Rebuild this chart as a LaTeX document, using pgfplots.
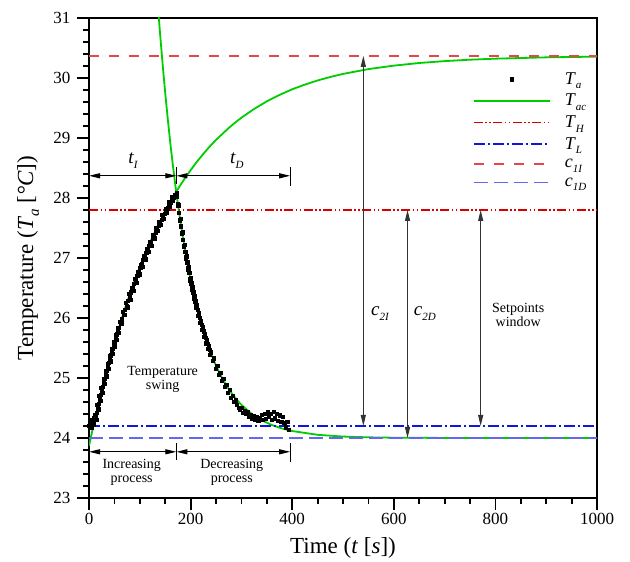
\documentclass[border=0pt]{standalone}
\usepackage{fontspec}
\setmainfont{Liberation Serif}
\usepackage{pgfplots}
\pgfplotsset{compat=1.18}
\usetikzlibrary{arrows.meta}
\definecolor{tgreen}{RGB}{0,205,0}
\definecolor{thred}{RGB}{215,0,0}
\definecolor{cred}{RGB}{230,70,70}
\definecolor{tlblue}{RGB}{20,20,225}
\definecolor{cblue}{RGB}{100,100,245}
\newcommand{\vs}[2]{\textit{#1}\raisebox{-0.55ex}{\fontsize{11}{11}\selectfont\textit{#2}}}
\newcommand{\vsl}[2]{\textit{#1}\raisebox{-0.55ex}{\fontsize{15}{15}\selectfont\textit{#2}}}
\begin{document}
\begin{tikzpicture}
\begin{axis}[
  scale only axis, width=508pt, height=480pt,
  xmin=0, xmax=1000, ymin=23, ymax=31,
  xtick={0,200,...,1000}, ytick={23,24,...,31},
  minor x tick num=3, minor y tick num=4,
  tick align=outside, xtick pos=bottom, ytick pos=left,
  major tick length=12pt, minor tick length=6pt,
  tick style={black, line width=1.8pt},
  axis line style={line width=2.7pt},
  /pgf/number format/assume math mode=true,
  /pgf/number format/1000 sep={},
  ticklabel style={font=\fontsize{17}{19}\selectfont},
  yticklabel style={xshift=-3pt},
  xlabel={Time (\textit{t} [\textit{s}])},
  ylabel={Temperature (\vsl{T}{a} [\textit{°C}])},
  every axis x label/.style={at={(axis description cs:0.5,-0.104)}, anchor=center, font=\fontsize{23}{25}\selectfont},
  every axis y label/.style={at={(axis description cs:-0.12,0.5)}, anchor=center, rotate=90, font=\fontsize{23}{25}\selectfont},
  legend style={draw=none, fill=none, at={(axis description cs:0.756,0.8906)}, anchor=north west,
    inner sep=0pt, outer sep=0pt, row sep=4.4pt,
    font=\fontsize{18}{20}\selectfont,
    /tikz/every odd column/.append style={column sep=12pt}},
  legend cell align=left,
  legend image code/.code={\draw[mark repeat=2, mark phase=2] plot coordinates {(0pt,0pt) (38pt,0pt) (76pt,0pt)};},
]
\addplot[only marks, mark=square*, mark size=1.6pt, mark options={fill=black, draw=black, line width=0.2pt}] coordinates {
(0,24.20) (2,24.26) (4,24.17) (6,24.30) (8,24.22) (10,24.33) (12,24.38) (14,24.31) (16,24.55) (18,24.48) (20,24.70) (22,24.62) (24,24.84) (26,24.76) (28,24.98) (30,24.90) (32,25.12) (34,25.03) (36,25.24) (38,25.15) (40,25.37) (42,25.28) (44,25.49) (46,25.41) (48,25.61) (50,25.53) (52,25.72) (54,25.64) (56,25.83) (58,25.75) (60,25.94) (63,25.90) (66,26.10) (69,26.05) (72,26.25) (75,26.18) (78,26.40) (81,26.31) (84,26.50) (87,26.46) (90,26.65) (93,26.59) (96,26.77) (99,26.73) (102,26.89) (105,26.86) (108,27.03) (111,26.98) (114,27.15) (117,27.10) (120,27.27) (123,27.21) (126,27.39) (129,27.33) (132,27.50) (135,27.45) (138,27.61) (141,27.56) (144,27.72) (147,27.66) (150,27.82) (153,27.76) (156,27.93) (159,27.86) (162,28.02) (165,27.95) (168,28.06) (170,28.02) (172,28.08) (174,27.91) (176,27.88) (178,27.63) (180,27.65) (182,27.41) (184,27.43) (186,27.19) (188,27.22) (190,26.99) (192,27.03) (194,26.81) (196,26.85) (198,26.63) (200,26.67) (202,26.47) (204,26.52) (206,26.32) (208,26.37) (210,26.18) (212,26.22) (214,26.04) (216,26.09) (218,25.92) (220,25.96) (222,25.80) (224,25.85) (226,25.69) (228,25.74) (230,25.58) (232,25.63) (234,25.49) (236,25.54) (238,25.39) (240,25.44) (243,25.29) (246,25.33) (249,25.16) (252,25.20) (255,25.05) (258,25.09) (261,24.95) (264,24.99) (267,24.85) (270,24.89) (273,24.75) (276,24.80) (279,24.67) (282,24.71) (285,24.60) (288,24.63) (291,24.55) (294,24.50) (297,24.47) (300,24.50) (303,24.42) (306,24.45) (309,24.40) (312,24.43) (315,24.36) (318,24.39) (321,24.33) (324,24.37) (327,24.31) (330,24.36) (333,24.29) (336,24.34) (339,24.39) (342,24.30) (345,24.41) (348,24.32) (351,24.43) (354,24.35) (357,24.41) (360,24.31) (363,24.44) (366,24.33) (369,24.40) (372,24.29) (375,24.38) (378,24.27) (381,24.36) (384,24.25) (387,24.18) (390,24.27) (393,24.14)
(1,24.23) (3,24.21) (5,24.24) (7,24.26) (9,24.28) (11,24.30) (13,24.38) (15,24.42) (17,24.50) (19,24.57) (21,24.65) (23,24.72) (25,24.79) (27,24.86) (29,24.93) (31,24.99) (33,25.06) (35,25.12) (37,25.19) (39,25.25) (41,25.31) (43,25.38) (45,25.44) (47,25.49) (49,25.56) (51,25.61) (53,25.67) (55,25.73) (57,25.79) (59,25.84)
(61.5,25.90) (64.5,25.98) (67.5,26.06) (70.5,26.14) (73.5,26.21) (76.5,26.29) (79.5,26.36) (82.5,26.43) (85.5,26.50) (88.5,26.57) (91.5,26.64) (94.5,26.71) (97.5,26.77) (100.5,26.84) (103.5,26.90) (106.5,26.97) (109.5,27.03) (112.5,27.09) (115.5,27.15) (118.5,27.21) (121.5,27.26) (124.5,27.32) (127.5,27.38) (130.5,27.43) (133.5,27.48) (136.5,27.54) (139.5,27.59) (142.5,27.64) (145.5,27.69) (148.5,27.74) (151.5,27.78) (154.5,27.83) (157.5,27.88) (160.5,27.92) (163.5,27.97) (166.5,28.01)
(173,28.02) (175,27.87) (177,27.76) (179,27.64) (181,27.53) (183,27.42) (185,27.31) (187,27.21) (189,27.11) (191,27.02) (193,26.93) (195,26.83) (197,26.75) (199,26.66) (201,26.58) (203,26.51) (205,26.43) (207,26.36) (209,26.28) (211,26.21) (213,26.14) (215,26.08) (217,26.01) (219,25.95) (221,25.89) (223,25.83) (225,25.78) (227,25.72) (229,25.67) (231,25.61) (233,25.57) (235,25.52) (237,25.47) (239,25.42)
};
\addlegendentry{\vs{T}{a}}
\addplot[tgreen, line width=1.8pt] coordinates {
(0,23.87) (10,24.257) (20,24.621) (30,24.963) (40,25.284) (50,25.587) (60,25.872) (70,26.139) (80,26.391) (90,26.628) (100,26.851) (110,27.060) (120,27.257) (130,27.442) (140,27.616) (150,27.780) (160,27.934) (170,28.079) (180,28.216) (190,28.343) (200,28.464) (212,28.600) (225,28.735) (237,28.852) (250,28.968) (262,29.063) (275,29.167) (287,29.252) (300,29.338) (325,29.484) (350,29.611) (375,29.718) (400,29.812) (425,29.890) (450,29.959) (475,30.017) (500,30.068) (550,30.148) (600,30.206) (650,30.250) (700,30.281) (750,30.305) (800,30.322) (900,30.344) (1000,30.356)
};
\addlegendentry{\vs{T}{ac}}
\addplot[tgreen, line width=1.8pt, forget plot] coordinates {
(130,31.865) (135,31.273) (140,30.727) (145,30.222) (150,29.754) (155,29.321) (160,28.921) (165,28.552) (170,28.209) (175,27.893) (180,27.601) (185,27.330) (190,27.080) (195,26.848) (200,26.634) (210,26.253) (220,25.927) (230,25.648) (240,25.410) (250,25.206) (260,25.032) (270,24.882) (280,24.755) (290,24.646) (300,24.552) (320,24.404) (340,24.296) (360,24.216) (380,24.158) (400,24.116) (450,24.053) (500,24.024) (550,24.011) (600,24.005) (700,24.001) (1000,24.000)
};
\addplot[thred, line width=1.5pt, dash pattern=on 9pt off 2.5pt on 1.5pt off 2.5pt on 1.5pt off 2.5pt] coordinates {(0,27.8) (1000,27.8)};
\addlegendentry{\vs{T}{H}}
\addplot[tlblue, line width=1.5pt, dash pattern=on 11pt off 3pt on 2pt off 3pt] coordinates {(0,24.2) (1000,24.2)};
\addlegendentry{\vs{T}{L}}
\addplot[cred, line width=1.5pt, dash pattern=on 10pt off 10pt] coordinates {(0,30.37) (1000,30.37)};
\addlegendentry{\vs{c}{1I}}
\addplot[cblue, line width=1.5pt, dash pattern=on 14pt off 6pt] coordinates {(0,24) (1000,24)};
\addlegendentry{\vs{c}{1D}}
% annotations
\begin{scope}[line width=1.1pt, black, arr/.style={{Triangle[length=11pt,width=5pt]}-{Triangle[length=11pt,width=5pt]}}]
\draw[arr] (axis cs:0,28.37) -- (axis cs:172,28.37);
\draw[arr] (axis cs:172,28.37) -- (axis cs:396,28.37);
\draw (axis cs:172,28.52) -- (axis cs:172,28.24);
\draw (axis cs:396,28.52) -- (axis cs:396,28.2);
\draw[arr] (axis cs:0,23.77) -- (axis cs:172,23.77);
\draw[arr] (axis cs:172,23.77) -- (axis cs:396,23.77);
\draw (axis cs:172,23.92) -- (axis cs:172,23.63);
\draw (axis cs:396,23.92) -- (axis cs:396,23.6);
\draw[arr, black!80] (axis cs:540,24.2) -- (axis cs:540,30.37);
\draw[arr, black!80] (axis cs:627,24.0) -- (axis cs:627,27.8);
\draw[arr, black!80] (axis cs:771,24.2) -- (axis cs:771,27.8);
\end{scope}
\node[font=\fontsize{19}{20}\selectfont] at (axis cs:87,28.62) {\vs{t}{I}};
\node[font=\fontsize{19}{20}\selectfont] at (axis cs:291,28.62) {\vs{t}{D}};
\node[font=\fontsize{19}{20}\selectfont] at (axis cs:573,26.08) {\vs{c}{2I}};
\node[font=\fontsize{19}{20}\selectfont] at (axis cs:661,26.08) {\vs{c}{2D}};
\node[font=\fontsize{14}{14}\selectfont, align=center] at (axis cs:145,24.97) {Temperature\\swing};
\node[font=\fontsize{14}{14}\selectfont, align=center] at (axis cs:84,23.42) {Increasing\\process};
\node[font=\fontsize{14}{14}\selectfont, align=center] at (axis cs:281,23.42) {Decreasing\\process};
\node[font=\fontsize{14}{14}\selectfont, align=center] at (axis cs:845,26.05) {Setpoints\\window};
\end{axis}
\pgfresetboundingbox
\path ([shift={(-89pt,-64pt)}]current axis.south west) rectangle ([shift={(33pt,18pt)}]current axis.north east);
\end{tikzpicture}
\end{document}
